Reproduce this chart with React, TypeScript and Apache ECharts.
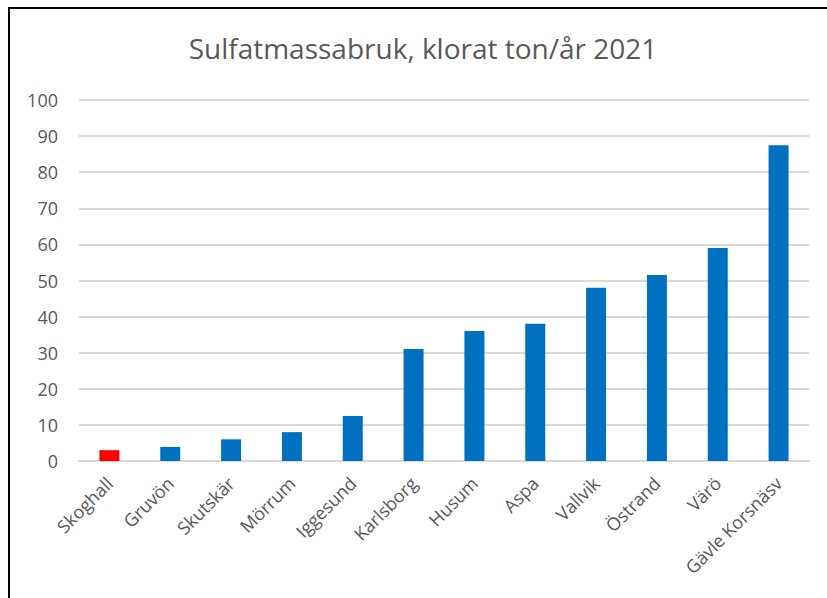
import React, { useEffect, useRef } from "react";
import * as echarts from "echarts";

const categories = ["Skoghall", "Gruvön", "Skutskär", "Mörrum", "Iggesund", "Karlsborg", "Husum", "Aspa", "Vallvik", "Östrand", "Värö", "Gävle Korsnäsv"];
const values = [3.0, 3.9, 6.0, 8.0, 12.5, 31.0, 36.0, 38.0, 48.0, 51.5, 59.0, 87.5];
const highlighted = ["Skoghall"];
const titleText = "Sulfatmassabruk, klorat ton/år 2021";

export default function App() {
  const ref = useRef<HTMLDivElement>(null);
  useEffect(() => {
    if (!ref.current) return;
    const chart = echarts.init(ref.current, null, { renderer: "svg" });
    const font = "'Open Sans', 'Noto Sans', sans-serif";
    chart.setOption({
      animation: false,
      backgroundColor: "#ffffff",
      title: {
        text: titleText,
        left: 418,
        top: 29,
        textAlign: "center",
        textStyle: { fontFamily: font, fontSize: 28, fontWeight: "normal", color: "#595959" },
      },
      grid: { left: 79, right: 18, top: 100, bottom: 137, containLabel: false },
      xAxis: {
        type: "category",
        data: categories,
        axisLine: { show: true, lineStyle: { color: "#D9D9D9", width: 2 } },
        axisTick: { show: false },
        axisLabel: { rotate: 45, fontFamily: font, fontSize: 18, color: "#595959", margin: 19, interval: 0 },
      },
      yAxis: {
        type: "value",
        min: 0,
        max: 100,
        interval: 10,
        axisLine: { show: false },
        axisTick: { show: false },
        splitLine: { lineStyle: { color: "#D9D9D9", width: 2 } },
        axisLabel: { fontFamily: font, fontSize: 18, color: "#595959", margin: 21 },
      },
      series: [
        {
          type: "bar",
          barWidth: 20,
          data: values.map((v, i) => ({
            value: v,
            itemStyle: { color: highlighted.includes(categories[i]) ? "#FF0000" : "#0070C0" },
          })),
        },
      ],
      graphic: [
        { type: "line", shape: { x1: 9, y1: 8, x2: 827, y2: 8 }, style: { stroke: "#000", lineWidth: 2 } },
        { type: "line", shape: { x1: 9, y1: 7, x2: 9, y2: 598 }, style: { stroke: "#000", lineWidth: 2 } },
      ],
    });
    return () => chart.dispose();
  }, []);
  return <div ref={ref} style={{ position: "fixed", left: 0, top: 0, width: 827, height: 598 }} />;
}
